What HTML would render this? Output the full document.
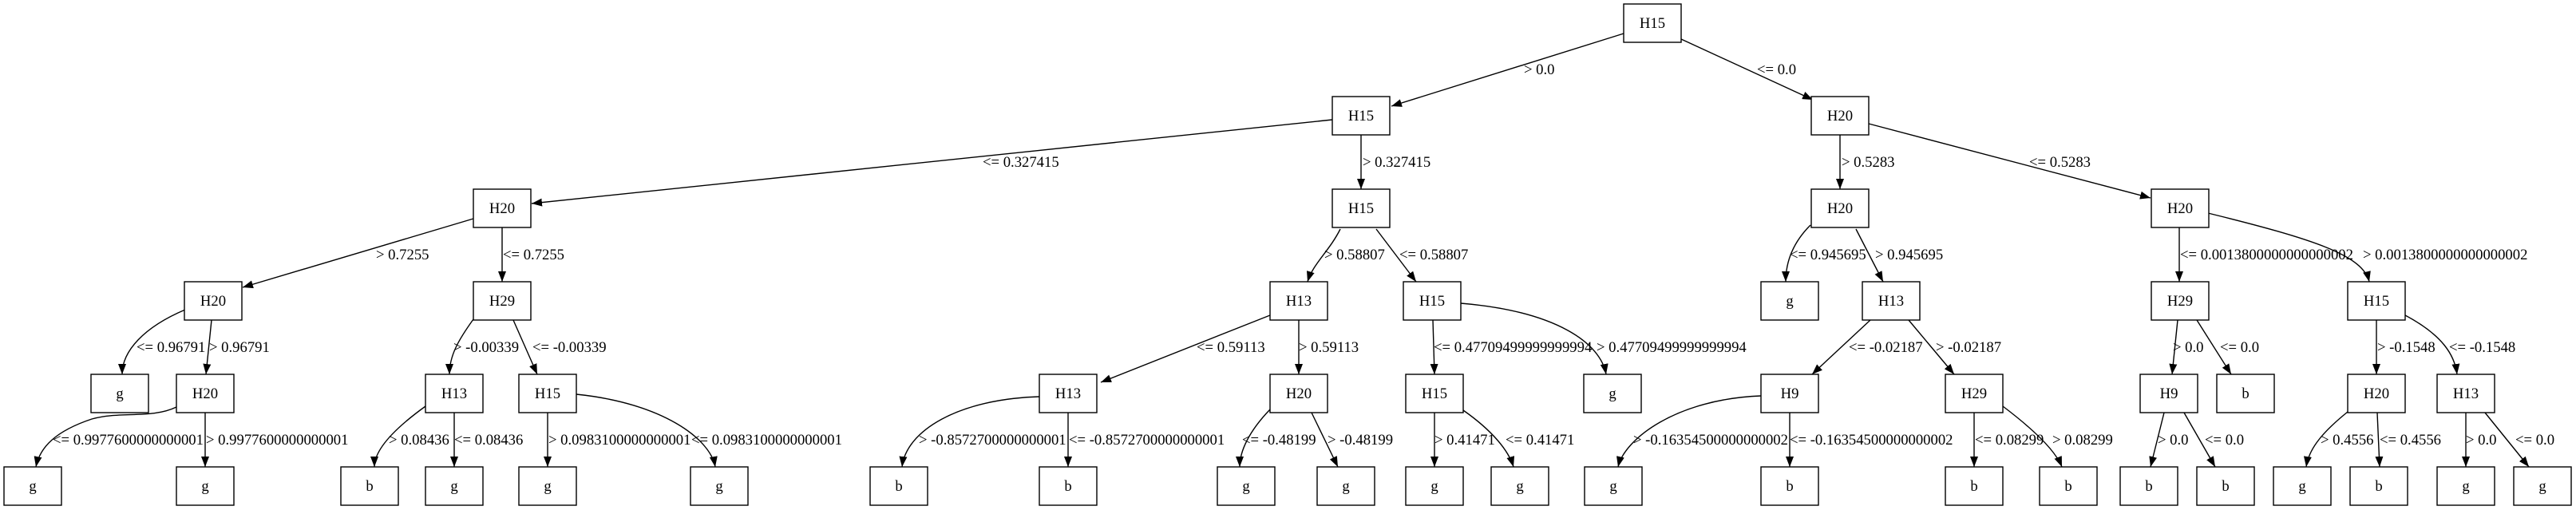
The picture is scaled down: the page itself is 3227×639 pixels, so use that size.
<!DOCTYPE html>
<html><head><meta charset="utf-8"><style>
html,body{margin:0;padding:0;background:#fff;}
svg{display:block;}
text{font-family:"Liberation Serif",serif;font-size:18.67px;fill:#000;}
.n{text-anchor:middle;}
rect{fill:#fff;stroke:#000;stroke-width:1.4;}
path{fill:none;stroke:#000;stroke-width:1.4;}
</style></head><body>
<svg width="3227" height="639" viewBox="0 0 3227 639" xmlns="http://www.w3.org/2000/svg">
<defs><marker id="a" viewBox="0 0 13 10" refX="13" refY="5" markerWidth="13" markerHeight="10" markerUnits="userSpaceOnUse" orient="auto"><polygon points="0,0 13,5 0,10" fill="#000"/></marker></defs>
<g marker-end="url(#a)">
<path d="M2034,42 L1743,133"/>
<path d="M2106,49 L2271,125"/>
<path d="M1669,150 L666,255"/>
<path d="M1705,169 L1705,237"/>
<path d="M2305,169 L2305,237"/>
<path d="M2341,155 L2694,248"/>
<path d="M593,274 L304,360"/>
<path d="M629,285 L629,353"/>
<path d="M1679,287 C1665,315 1645,330 1638,353"/>
<path d="M1724,287 L1774,353"/>
<path d="M2268,282 C2245,305 2237,330 2237,353"/>
<path d="M2325,287 L2359,353"/>
<path d="M2730,261 L2730,353"/>
<path d="M2766,267 C2900,300 2960,320 2968,353"/>
<path d="M232,388 C180,410 153,440 153,469"/>
<path d="M265,401 L258,469"/>
<path d="M593,400 C575,425 563,445 563,469"/>
<path d="M643,401 L673,469"/>
<path d="M1591,395 L1379,479"/>
<path d="M1627,401 L1627,469"/>
<path d="M1795,401 L1797,469"/>
<path d="M1830,380 C1950,390 2005,430 2012,469"/>
<path d="M2343,401 L2270,469"/>
<path d="M2391,401 L2448,469"/>
<path d="M2728,401 L2721,469"/>
<path d="M2752,401 L2795,469"/>
<path d="M2977,401 L2977,469"/>
<path d="M3013,395 C3060,420 3075,445 3078,469"/>
<path d="M221,510 C190,525 150,515 115,525 C70,540 50,560 45,585"/>
<path d="M257,517 L257,585"/>
<path d="M533,509 C490,540 469,565 469,585"/>
<path d="M569,517 L569,585"/>
<path d="M686,517 L686,585"/>
<path d="M722,494 C830,505 890,550 896,585"/>
<path d="M1302,497 C1200,500 1135,540 1130,585"/>
<path d="M1338,517 L1338,585"/>
<path d="M1591,513 C1565,540 1553,565 1553,585"/>
<path d="M1643,517 L1676,585"/>
<path d="M1797,517 L1797,585"/>
<path d="M1833,514 C1870,540 1890,565 1896,585"/>
<path d="M2206,496 C2100,500 2035,550 2027,585"/>
<path d="M2242,517 L2242,585"/>
<path d="M2473,517 L2473,585"/>
<path d="M2509,509 C2550,540 2575,565 2583,585"/>
<path d="M2711,517 L2694,585"/>
<path d="M2736,517 L2775,585"/>
<path d="M2941,516 C2905,545 2892,565 2889,585"/>
<path d="M2978,517 L2981,585"/>
<path d="M3089,517 L3089,585"/>
<path d="M3113,517 L3168,585"/>
</g>
<!-- edge labels -->
<g>
<text x="1909" y="93">&gt; 0.0</text>
<text x="2201" y="93">&lt;= 0.0</text>
<text x="1231" y="209">&lt;= 0.327415</text>
<text x="1707" y="209">&gt; 0.327415</text>
<text x="2307" y="209">&gt; 0.5283</text>
<text x="2542" y="209">&lt;= 0.5283</text>
<text x="471" y="325">&gt; 0.7255</text>
<text x="630" y="325">&lt;= 0.7255</text>
<text x="1659" y="325">&gt; 0.58807</text>
<text x="1753" y="325">&lt;= 0.58807</text>
<text x="2242" y="325">&lt;= 0.945695</text>
<text x="2349" y="325">&gt; 0.945695</text>
<text x="2731" y="325">&lt;= 0.0013800000000000002</text>
<text x="2960" y="325">&gt; 0.0013800000000000002</text>
<text x="171" y="441">&lt;= 0.96791</text>
<text x="262" y="441">&gt; 0.96791</text>
<text x="568" y="441">&gt; -0.00339</text>
<text x="667" y="441">&lt;= -0.00339</text>
<text x="1499" y="441">&lt;= 0.59113</text>
<text x="1627" y="441">&gt; 0.59113</text>
<text x="1796" y="441">&lt;= 0.47709499999999994</text>
<text x="2000" y="441">&gt; 0.47709499999999994</text>
<text x="2316" y="441">&lt;= -0.02187</text>
<text x="2425" y="441">&gt; -0.02187</text>
<text x="2722" y="441">&gt; 0.0</text>
<text x="2781" y="441">&lt;= 0.0</text>
<text x="2978" y="441">&gt; -0.1548</text>
<text x="3068" y="441">&lt;= -0.1548</text>
<text x="66" y="557">&lt;= 0.9977600000000001</text>
<text x="258" y="557">&gt; 0.9977600000000001</text>
<text x="487" y="557">&gt; 0.08436</text>
<text x="569" y="557">&lt;= 0.08436</text>
<text x="687" y="557">&gt; 0.0983100000000001</text>
<text x="866" y="557">&lt;= 0.0983100000000001</text>
<text x="1151" y="557">&gt; -0.8572700000000001</text>
<text x="1339" y="557">&lt;= -0.8572700000000001</text>
<text x="1556" y="557">&lt;= -0.48199</text>
<text x="1663" y="557">&gt; -0.48199</text>
<text x="1797" y="557">&gt; 0.41471</text>
<text x="1886" y="557">&lt;= 0.41471</text>
<text x="2046" y="557">&gt; -0.16354500000000002</text>
<text x="2242" y="557">&lt;= -0.16354500000000002</text>
<text x="2474" y="557">&lt;= 0.08299</text>
<text x="2571" y="557">&gt; 0.08299</text>
<text x="2703" y="557">&gt; 0.0</text>
<text x="2762" y="557">&lt;= 0.0</text>
<text x="2907" y="557">&gt; 0.4556</text>
<text x="2981" y="557">&lt;= 0.4556</text>
<text x="3089" y="557">&gt; 0.0</text>
<text x="3151" y="557">&lt;= 0.0</text>
</g>
<!-- nodes -->
<g>
<rect x="2034" y="5" width="72" height="48"/><text class="n" x="2070" y="35">H15</text>
<rect x="1669" y="121" width="72" height="48"/><text class="n" x="1705" y="151">H15</text>
<rect x="2269" y="121" width="72" height="48"/><text class="n" x="2305" y="151">H20</text>

<rect x="593" y="237" width="72" height="48"/><text class="n" x="629" y="267">H20</text>
<rect x="1669" y="237" width="72" height="48"/><text class="n" x="1705" y="267">H15</text>
<rect x="2269" y="237" width="72" height="48"/><text class="n" x="2305" y="267">H20</text>
<rect x="2695" y="237" width="72" height="48"/><text class="n" x="2731" y="267">H20</text>

<rect x="231" y="353" width="72" height="48"/><text class="n" x="267" y="383">H20</text>
<rect x="593" y="353" width="72" height="48"/><text class="n" x="629" y="383">H29</text>
<rect x="1591" y="353" width="72" height="48"/><text class="n" x="1627" y="383">H13</text>
<rect x="1758" y="353" width="72" height="48"/><text class="n" x="1794" y="383">H15</text>
<rect x="2206" y="353" width="72" height="48"/><text class="n" x="2242" y="383">g</text>
<rect x="2333" y="353" width="72" height="48"/><text class="n" x="2369" y="383">H13</text>
<rect x="2695" y="353" width="72" height="48"/><text class="n" x="2731" y="383">H29</text>
<rect x="2941" y="353" width="72" height="48"/><text class="n" x="2977" y="383">H15</text>

<rect x="114" y="469" width="72" height="48"/><text class="n" x="150" y="499">g</text>
<rect x="221" y="469" width="72" height="48"/><text class="n" x="257" y="499">H20</text>
<rect x="533" y="469" width="72" height="48"/><text class="n" x="569" y="499">H13</text>
<rect x="650" y="469" width="72" height="48"/><text class="n" x="686" y="499">H15</text>
<rect x="1302" y="469" width="72" height="48"/><text class="n" x="1338" y="499">H13</text>
<rect x="1591" y="469" width="72" height="48"/><text class="n" x="1627" y="499">H20</text>
<rect x="1761" y="469" width="72" height="48"/><text class="n" x="1797" y="499">H15</text>
<rect x="1984" y="469" width="72" height="48"/><text class="n" x="2020" y="499">g</text>
<rect x="2206" y="469" width="72" height="48"/><text class="n" x="2242" y="499">H9</text>
<rect x="2437" y="469" width="72" height="48"/><text class="n" x="2473" y="499">H29</text>
<rect x="2681" y="469" width="72" height="48"/><text class="n" x="2717" y="499">H9</text>
<rect x="2777" y="469" width="72" height="48"/><text class="n" x="2813" y="499">b</text>
<rect x="2941" y="469" width="72" height="48"/><text class="n" x="2977" y="499">H20</text>
<rect x="3053" y="469" width="72" height="48"/><text class="n" x="3089" y="499">H13</text>

<rect x="5" y="585" width="72" height="48"/><text class="n" x="41" y="615">g</text>
<rect x="221" y="585" width="72" height="48"/><text class="n" x="257" y="615">g</text>
<rect x="427" y="585" width="72" height="48"/><text class="n" x="463" y="615">b</text>
<rect x="533" y="585" width="72" height="48"/><text class="n" x="569" y="615">g</text>
<rect x="650" y="585" width="72" height="48"/><text class="n" x="686" y="615">g</text>
<rect x="865" y="585" width="72" height="48"/><text class="n" x="901" y="615">g</text>
<rect x="1090" y="585" width="72" height="48"/><text class="n" x="1126" y="615">b</text>
<rect x="1302" y="585" width="72" height="48"/><text class="n" x="1338" y="615">b</text>
<rect x="1525" y="585" width="72" height="48"/><text class="n" x="1561" y="615">g</text>
<rect x="1650" y="585" width="72" height="48"/><text class="n" x="1686" y="615">g</text>
<rect x="1761" y="585" width="72" height="48"/><text class="n" x="1797" y="615">g</text>
<rect x="1868" y="585" width="72" height="48"/><text class="n" x="1904" y="615">g</text>
<rect x="1985" y="585" width="72" height="48"/><text class="n" x="2021" y="615">g</text>
<rect x="2206" y="585" width="72" height="48"/><text class="n" x="2242" y="615">b</text>
<rect x="2437" y="585" width="72" height="48"/><text class="n" x="2473" y="615">b</text>
<rect x="2555" y="585" width="72" height="48"/><text class="n" x="2591" y="615">b</text>
<rect x="2656" y="585" width="72" height="48"/><text class="n" x="2692" y="615">b</text>
<rect x="2752" y="585" width="72" height="48"/><text class="n" x="2788" y="615">b</text>
<rect x="2848" y="585" width="72" height="48"/><text class="n" x="2884" y="615">g</text>
<rect x="2944" y="585" width="72" height="48"/><text class="n" x="2980" y="615">b</text>
<rect x="3053" y="585" width="72" height="48"/><text class="n" x="3089" y="615">g</text>
<rect x="3149" y="585" width="72" height="48"/><text class="n" x="3185" y="615">g</text>
</g>
</svg>
</body></html>
